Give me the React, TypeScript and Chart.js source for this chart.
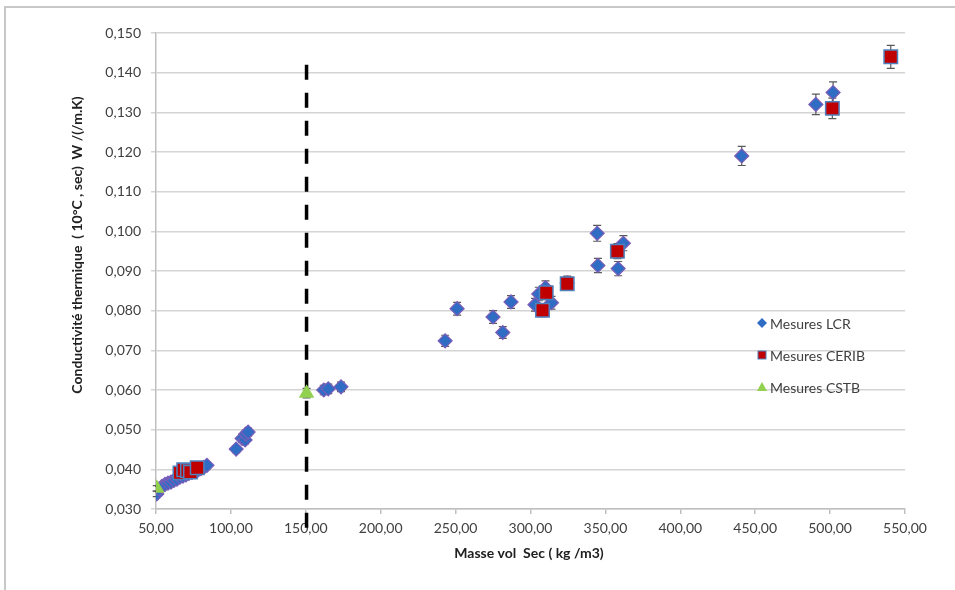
import React, { useEffect, useRef } from 'react';
import { Chart, registerables } from 'chart.js';

Chart.register(...registerables);

// ---- Data ----
const lcrX = [50.5, 52, 54, 56, 58, 60, 62, 64, 66, 68, 70, 72, 74, 76, 78, 80, 82, 84,
  103.5, 107.5, 109.5, 110, 111.5, 162, 165, 173.5,
  243, 251, 275, 281.5, 287, 303, 305.5, 310, 314, 324.5,
  344.5, 345, 358.5, 362, 441, 490.5, 502];
const lcrY = [0.0338, 0.0350, 0.0357, 0.0362, 0.0365, 0.0368, 0.0372, 0.0375, 0.0380, 0.0383, 0.0386, 0.0390, 0.0392, 0.0395, 0.0398, 0.0402, 0.0405, 0.0410,
  0.0451, 0.0478, 0.0474, 0.0489, 0.0494, 0.0600, 0.0603, 0.0608,
  0.0724, 0.0805, 0.0784, 0.0745, 0.0822, 0.0815, 0.0842, 0.0858, 0.0820, 0.0870,
  0.0995, 0.0914, 0.0906, 0.0970, 0.1190, 0.1320, 0.1350];
const lcrErr = [0.0007, 0.0007, 0.0007, 0.0007, 0.0007, 0.0007, 0.0007, 0.0008, 0.0008, 0.0008, 0.0008, 0.0008, 0.0008, 0.0008, 0.0008, 0.0008, 0.0008, 0.0008,
  0.0009, 0.0010, 0.0010, 0.0010, 0.0010, 0.0012, 0.0012, 0.0012,
  0.0014, 0.0016, 0.0016, 0.0015, 0.0016, 0.0016, 0.0017, 0.0017, 0.0016, 0.0017,
  0.0020, 0.0018, 0.0018, 0.0019, 0.0024, 0.0026, 0.0027];

const ceribX = [66, 68.5, 71, 73, 77.5, 308, 310.5, 324.5, 358, 501.5, 540.5];
const ceribY = [0.0391, 0.0399, 0.0397, 0.0393, 0.0404, 0.0801, 0.0845, 0.0868, 0.0950, 0.1310, 0.1440];
const ceribErr = [0.0008, 0.0008, 0.0008, 0.0008, 0.0008, 0.0016, 0.0017, 0.0017, 0.0019, 0.0026, 0.0029];

const cstbX = [50.5, 150.5];
const cstbY = [0.0352, 0.0592];
const cstbErr = [0.0007, 0.0012];

const limitX = 150.5;
const limitY = [0.142, 0.0252];

const xTicks = { min: 50, max: 550, step: 50 };
const yTicks = { min: 0.03, max: 0.15, step: 0.01 };

const seriesNames = ['Mesures LCR', 'Mesures CERIB', 'Mesures CSTB'];
const xTitle = 'Masse vol  Sec ( kg /m3)';
const yTitle = 'Conductivité thermique  ( 10°C , sec)  W /(/m.K)';

const FONT = 'Lato, "Open Sans", "Liberation Sans", sans-serif';
const TXT = '#404040';

const toPts = (xs: number[], ys: number[]) => xs.map((x, i) => ({ x, y: ys[i] }));

const errs: Record<string, number[]> = {
  lcr: lcrErr,
  cerib: ceribErr,
  cstb: cstbErr,
};

const decorPlugin = {
  id: 'decor',
  beforeDatasetsDraw(chart: any) {
    const ctx = chart.ctx;
    const xs = chart.scales.x;
    const ys = chart.scales.y;
    ctx.save();
    ctx.strokeStyle = '#595959';
    ctx.lineWidth = 1.2;
    chart.data.datasets.forEach((ds: any) => {
      const e = errs[ds.key];
      if (!e) return;
      ds.data.forEach((p: any, i: number) => {
        const px = xs.getPixelForValue(p.x);
        const y1 = ys.getPixelForValue(p.y + e[i]);
        const y2 = ys.getPixelForValue(p.y - e[i]);
        ctx.beginPath();
        ctx.moveTo(px, y1); ctx.lineTo(px, y2);
        ctx.moveTo(px - 4, y1); ctx.lineTo(px + 4, y1);
        ctx.moveTo(px - 4, y2); ctx.lineTo(px + 4, y2);
        ctx.stroke();
      });
    });
    ctx.restore();
  },
  afterDraw(chart: any) {
    const ctx = chart.ctx;
    const area = chart.chartArea;
    ctx.save();
    // outer frame
    ctx.strokeStyle = '#c8c8c8';
    ctx.lineWidth = 2;
    ctx.beginPath();
    ctx.moveTo(5, 590); ctx.lineTo(5, 7); ctx.lineTo(955, 7);
    ctx.stroke();

    // axis titles
    ctx.fillStyle = '#202020';
    ctx.font = `bold 14px ${FONT}`;
    ctx.textAlign = 'center';
    ctx.textBaseline = 'middle';
    ctx.fillText(xTitle, 529, 553);
    ctx.save();
    ctx.translate(77, 245);
    ctx.rotate(-Math.PI / 2);
    ctx.fillText(yTitle, 0, 0);
    ctx.restore();

    // legend
    const lx = 762;
    const ly = [323, 355, 387];
    ctx.font = `14px ${FONT}`;
    ctx.textAlign = 'left';
    ctx.fillStyle = TXT;
    seriesNames.forEach((n, i) => ctx.fillText(n, lx + 8, ly[i] + 1));
    // diamond
    ctx.fillStyle = '#2f6cc4';
    ctx.beginPath();
    ctx.moveTo(lx, ly[0] - 5); ctx.lineTo(lx + 5, ly[0]); ctx.lineTo(lx, ly[0] + 5); ctx.lineTo(lx - 5, ly[0]);
    ctx.closePath(); ctx.fill();
    // square
    ctx.fillStyle = '#c00000';
    ctx.fillRect(lx - 4, ly[1] - 4, 8, 8);
    ctx.strokeStyle = '#4f81bd';
    ctx.lineWidth = 1;
    ctx.strokeRect(lx - 4, ly[1] - 4, 8, 8);
    // triangle
    ctx.fillStyle = '#92d050';
    ctx.beginPath();
    ctx.moveTo(lx, ly[2] - 5); ctx.lineTo(lx + 5, ly[2] + 4); ctx.lineTo(lx - 5, ly[2] + 4);
    ctx.closePath(); ctx.fill();
    ctx.restore();
  },
};

export default function App() {
  const ref = useRef<HTMLCanvasElement>(null);
  useEffect(() => {
    document.body.style.margin = '0';
    const chart = new Chart(ref.current as HTMLCanvasElement, {
      type: 'scatter',
      data: {
        datasets: [
          {
            key: 'limit',
            type: 'line',
            data: toPts([limitX, limitX], limitY),
            borderColor: '#000000',
            borderWidth: 3.5,
            borderDash: [15, 13],
            pointRadius: 0,
            showLine: true,
            clip: false,
            order: 4,
          } as any,
          {
            key: 'lcr',
            label: seriesNames[0],
            data: toPts(lcrX, lcrY),
            pointStyle: 'rectRot',
            pointRadius: 7,
            backgroundColor: '#2f6cc4',
            borderColor: '#7b5db8',
            borderWidth: 1.2,
            order: 3,
          } as any,
          {
            key: 'cerib',
            label: seriesNames[1],
            data: toPts(ceribX, ceribY),
            pointStyle: 'rect',
            pointRadius: 9.5,
            backgroundColor: '#c00000',
            borderColor: '#4f81bd',
            borderWidth: 1.5,
            order: 2,
          } as any,
          {
            key: 'cstb',
            label: seriesNames[2],
            data: toPts(cstbX, cstbY),
            pointStyle: 'triangle',
            pointRadius: 9,
            backgroundColor: '#92d050',
            borderColor: '#92d050',
            borderWidth: 0,
            order: 1,
          } as any,
        ],
      },
      options: {
        responsive: false,
        animation: false,
        layout: { padding: { left: 0, top: 33, right: 50, bottom: 0 } },
        plugins: { legend: { display: false }, tooltip: { enabled: false } },
        scales: {
          x: {
            type: 'linear',
            min: xTicks.min,
            max: xTicks.max,
            afterFit: (s: any) => { s.height = 81; },
            ticks: {
              stepSize: xTicks.step,
              color: TXT,
              font: { family: FONT, size: 14 },
              padding: 6,
              callback: (v: any) => Number(v).toFixed(2).replace('.', ','),
            },
            grid: { drawOnChartArea: false, drawTicks: true, tickLength: 5, color: '#bfbfbf', lineWidth: 1.5 },
            border: { color: '#bfbfbf', width: 1.5 },
          },
          y: {
            type: 'linear',
            min: yTicks.min,
            max: yTicks.max,
            afterFit: (s: any) => { s.width = 156; },
            ticks: {
              stepSize: yTicks.step,
              color: TXT,
              font: { family: FONT, size: 14 },
              padding: 10,
              callback: (v: any) => Number(v).toFixed(3).replace('.', ','),
            },
            grid: { color: '#d4d4d4', lineWidth: 1.5, tickLength: 5 },
            border: { color: '#bfbfbf', width: 1.5 },
          },
        },
      },
      plugins: [decorPlugin],
    } as any);
    return () => chart.destroy();
  }, []);
  return <canvas ref={ref} width={955} height={590} style={{ display: 'block' }} />;
}
